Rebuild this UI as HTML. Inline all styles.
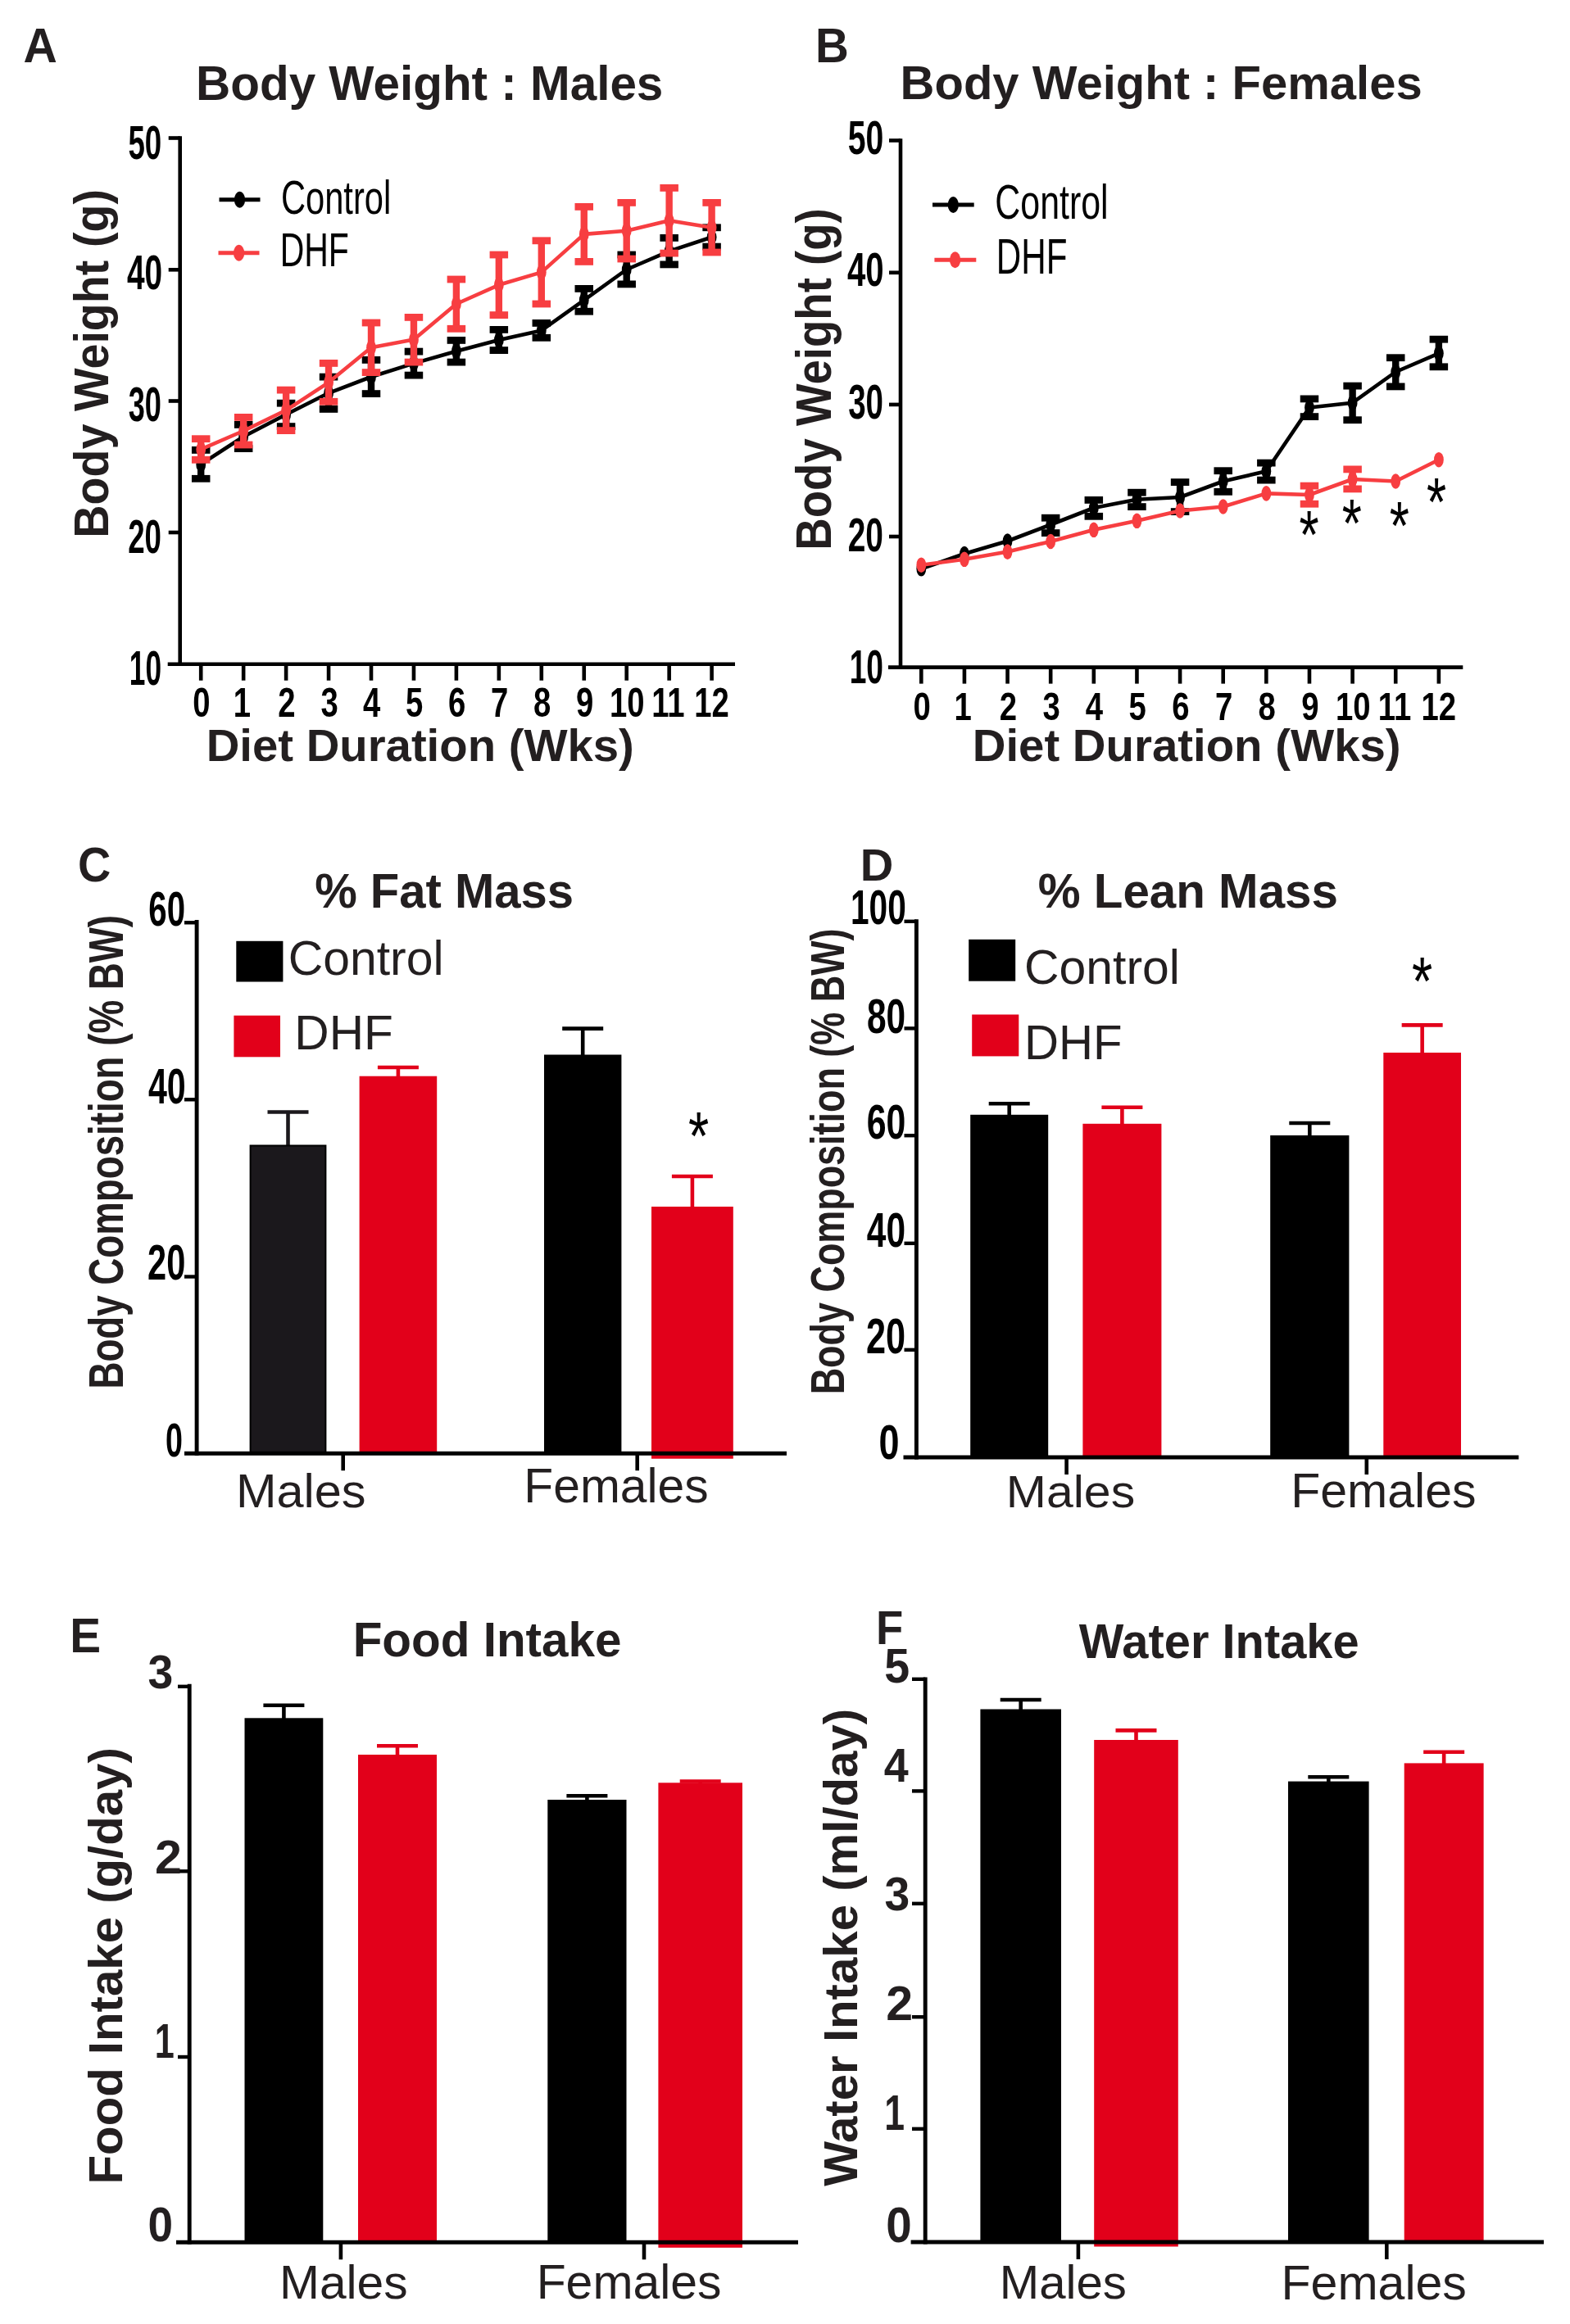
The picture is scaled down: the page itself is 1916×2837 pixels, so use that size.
<!DOCTYPE html>
<html lang="en">
<head>
<meta charset="utf-8">
<title>Body weight, body composition, food and water intake</title>
<style>
html,body{margin:0;padding:0;background:#fff}
body{width:1916px;height:2837px;overflow:hidden}
svg{display:block;filter:blur(0.7px)}
text{font-family:"Liberation Sans",sans-serif;white-space:pre}
</style>
</head>
<body>
<svg width="1916" height="2837" viewBox="0 0 1916 2837">
<rect width="1916" height="2837" fill="#ffffff"/>
<polyline points="245.2,566.9 297.15,533 349.1,506 401.05,479.8 453,460 504.95,443.6 556.9,428.7 608.85,415 660.8,403.4 712.75,366.3 764.7,329 816.65,306.6 868.6,289.5" fill="none" stroke="#000000" stroke-width="4.6" stroke-linejoin="round"/>
<line x1="245.2" y1="546" x2="245.2" y2="587.7" stroke="#000000" stroke-width="8.4"/>
<rect x="233.95" y="545" width="22.5" height="8.8" fill="#000000"/>
<rect x="233.95" y="579.9" width="22.5" height="8.8" fill="#000000"/>
<ellipse cx="245.2" cy="566.9" rx="5.9" ry="9.3" fill="#000000"/>
<line x1="297.15" y1="515" x2="297.15" y2="551" stroke="#000000" stroke-width="8.4"/>
<rect x="285.9" y="514" width="22.5" height="8.8" fill="#000000"/>
<rect x="285.9" y="543.2" width="22.5" height="8.8" fill="#000000"/>
<ellipse cx="297.15" cy="533" rx="5.9" ry="9.3" fill="#000000"/>
<line x1="349.1" y1="488.8" x2="349.1" y2="524" stroke="#000000" stroke-width="8.4"/>
<rect x="337.85" y="487.8" width="22.5" height="8.8" fill="#000000"/>
<rect x="337.85" y="516.2" width="22.5" height="8.8" fill="#000000"/>
<ellipse cx="349.1" cy="506" rx="5.9" ry="9.3" fill="#000000"/>
<line x1="401.05" y1="456.7" x2="401.05" y2="502.8" stroke="#000000" stroke-width="8.4"/>
<rect x="389.8" y="455.7" width="22.5" height="8.8" fill="#000000"/>
<rect x="389.8" y="495" width="22.5" height="8.8" fill="#000000"/>
<ellipse cx="401.05" cy="479.8" rx="5.9" ry="9.3" fill="#000000"/>
<line x1="453" y1="436" x2="453" y2="484" stroke="#000000" stroke-width="8.4"/>
<rect x="441.75" y="435" width="22.5" height="8.8" fill="#000000"/>
<rect x="441.75" y="476.2" width="22.5" height="8.8" fill="#000000"/>
<ellipse cx="453" cy="460" rx="5.9" ry="9.3" fill="#000000"/>
<line x1="504.95" y1="425.7" x2="504.95" y2="461.5" stroke="#000000" stroke-width="8.4"/>
<rect x="493.7" y="424.7" width="22.5" height="8.8" fill="#000000"/>
<rect x="493.7" y="453.7" width="22.5" height="8.8" fill="#000000"/>
<ellipse cx="504.95" cy="443.6" rx="5.9" ry="9.3" fill="#000000"/>
<line x1="556.9" y1="412" x2="556.9" y2="445.5" stroke="#000000" stroke-width="8.4"/>
<rect x="545.65" y="411" width="22.5" height="8.8" fill="#000000"/>
<rect x="545.65" y="437.7" width="22.5" height="8.8" fill="#000000"/>
<ellipse cx="556.9" cy="428.7" rx="5.9" ry="9.3" fill="#000000"/>
<line x1="608.85" y1="399" x2="608.85" y2="431" stroke="#000000" stroke-width="8.4"/>
<rect x="597.6" y="398" width="22.5" height="8.8" fill="#000000"/>
<rect x="597.6" y="423.2" width="22.5" height="8.8" fill="#000000"/>
<ellipse cx="608.85" cy="415" rx="5.9" ry="9.3" fill="#000000"/>
<line x1="660.8" y1="391" x2="660.8" y2="415.7" stroke="#000000" stroke-width="8.4"/>
<rect x="649.55" y="390" width="22.5" height="8.8" fill="#000000"/>
<rect x="649.55" y="407.9" width="22.5" height="8.8" fill="#000000"/>
<ellipse cx="660.8" cy="403.4" rx="5.9" ry="9.3" fill="#000000"/>
<line x1="712.75" y1="349" x2="712.75" y2="383.6" stroke="#000000" stroke-width="8.4"/>
<rect x="701.5" y="348" width="22.5" height="8.8" fill="#000000"/>
<rect x="701.5" y="375.8" width="22.5" height="8.8" fill="#000000"/>
<ellipse cx="712.75" cy="366.3" rx="5.9" ry="9.3" fill="#000000"/>
<line x1="764.7" y1="307.6" x2="764.7" y2="350.3" stroke="#000000" stroke-width="8.4"/>
<rect x="753.45" y="306.6" width="22.5" height="8.8" fill="#000000"/>
<rect x="753.45" y="342.5" width="22.5" height="8.8" fill="#000000"/>
<ellipse cx="764.7" cy="329" rx="5.9" ry="9.3" fill="#000000"/>
<line x1="816.65" y1="287" x2="816.65" y2="326.3" stroke="#000000" stroke-width="8.4"/>
<rect x="805.4" y="286" width="22.5" height="8.8" fill="#000000"/>
<rect x="805.4" y="318.5" width="22.5" height="8.8" fill="#000000"/>
<ellipse cx="816.65" cy="306.6" rx="5.9" ry="9.3" fill="#000000"/>
<line x1="868.6" y1="274.4" x2="868.6" y2="304.5" stroke="#000000" stroke-width="8.4"/>
<rect x="857.35" y="273.4" width="22.5" height="8.8" fill="#000000"/>
<rect x="857.35" y="296.7" width="22.5" height="8.8" fill="#000000"/>
<ellipse cx="868.6" cy="289.5" rx="5.9" ry="9.3" fill="#000000"/>
<polyline points="245.2,548.5 297.15,526 349.1,500.8 401.05,466.8 453,424.3 504.95,414.5 556.9,371 608.85,347.8 660.8,332.4 712.75,285.9 764.7,281.7 816.65,269.3 868.6,277.7" fill="none" stroke="#f73e41" stroke-width="4.6" stroke-linejoin="round"/>
<line x1="245.2" y1="532.3" x2="245.2" y2="564.7" stroke="#f73e41" stroke-width="8.4"/>
<rect x="233.95" y="531.3" width="22.5" height="8.8" fill="#f73e41"/>
<rect x="233.95" y="556.9" width="22.5" height="8.8" fill="#f73e41"/>
<ellipse cx="245.2" cy="548.5" rx="5.9" ry="9.3" fill="#f73e41"/>
<line x1="297.15" y1="506" x2="297.15" y2="546.4" stroke="#f73e41" stroke-width="8.4"/>
<rect x="285.9" y="505" width="22.5" height="8.8" fill="#f73e41"/>
<rect x="285.9" y="538.6" width="22.5" height="8.8" fill="#f73e41"/>
<ellipse cx="297.15" cy="526" rx="5.9" ry="9.3" fill="#f73e41"/>
<line x1="349.1" y1="472.7" x2="349.1" y2="529" stroke="#f73e41" stroke-width="8.4"/>
<rect x="337.85" y="471.7" width="22.5" height="8.8" fill="#f73e41"/>
<rect x="337.85" y="521.2" width="22.5" height="8.8" fill="#f73e41"/>
<ellipse cx="349.1" cy="500.8" rx="5.9" ry="9.3" fill="#f73e41"/>
<line x1="401.05" y1="440" x2="401.05" y2="493.7" stroke="#f73e41" stroke-width="8.4"/>
<rect x="389.8" y="439" width="22.5" height="8.8" fill="#f73e41"/>
<rect x="389.8" y="485.9" width="22.5" height="8.8" fill="#f73e41"/>
<ellipse cx="401.05" cy="466.8" rx="5.9" ry="9.3" fill="#f73e41"/>
<line x1="453" y1="390.6" x2="453" y2="458" stroke="#f73e41" stroke-width="8.4"/>
<rect x="441.75" y="389.6" width="22.5" height="8.8" fill="#f73e41"/>
<rect x="441.75" y="450.2" width="22.5" height="8.8" fill="#f73e41"/>
<ellipse cx="453" cy="424.3" rx="5.9" ry="9.3" fill="#f73e41"/>
<line x1="504.95" y1="384" x2="504.95" y2="445.5" stroke="#f73e41" stroke-width="8.4"/>
<rect x="493.7" y="383" width="22.5" height="8.8" fill="#f73e41"/>
<rect x="493.7" y="437.7" width="22.5" height="8.8" fill="#f73e41"/>
<ellipse cx="504.95" cy="414.5" rx="5.9" ry="9.3" fill="#f73e41"/>
<line x1="556.9" y1="337.6" x2="556.9" y2="404.7" stroke="#f73e41" stroke-width="8.4"/>
<rect x="545.65" y="336.6" width="22.5" height="8.8" fill="#f73e41"/>
<rect x="545.65" y="396.9" width="22.5" height="8.8" fill="#f73e41"/>
<ellipse cx="556.9" cy="371" rx="5.9" ry="9.3" fill="#f73e41"/>
<line x1="608.85" y1="307.6" x2="608.85" y2="388" stroke="#f73e41" stroke-width="8.4"/>
<rect x="597.6" y="306.6" width="22.5" height="8.8" fill="#f73e41"/>
<rect x="597.6" y="380.2" width="22.5" height="8.8" fill="#f73e41"/>
<ellipse cx="608.85" cy="347.8" rx="5.9" ry="9.3" fill="#f73e41"/>
<line x1="660.8" y1="290.4" x2="660.8" y2="374.4" stroke="#f73e41" stroke-width="8.4"/>
<rect x="649.55" y="289.4" width="22.5" height="8.8" fill="#f73e41"/>
<rect x="649.55" y="366.6" width="22.5" height="8.8" fill="#f73e41"/>
<ellipse cx="660.8" cy="332.4" rx="5.9" ry="9.3" fill="#f73e41"/>
<line x1="712.75" y1="249" x2="712.75" y2="322.8" stroke="#f73e41" stroke-width="8.4"/>
<rect x="701.5" y="248" width="22.5" height="8.8" fill="#f73e41"/>
<rect x="701.5" y="315" width="22.5" height="8.8" fill="#f73e41"/>
<ellipse cx="712.75" cy="285.9" rx="5.9" ry="9.3" fill="#f73e41"/>
<line x1="764.7" y1="244" x2="764.7" y2="319.4" stroke="#f73e41" stroke-width="8.4"/>
<rect x="753.45" y="243" width="22.5" height="8.8" fill="#f73e41"/>
<rect x="753.45" y="311.6" width="22.5" height="8.8" fill="#f73e41"/>
<ellipse cx="764.7" cy="281.7" rx="5.9" ry="9.3" fill="#f73e41"/>
<line x1="816.65" y1="226" x2="816.65" y2="312.5" stroke="#f73e41" stroke-width="8.4"/>
<rect x="805.4" y="225" width="22.5" height="8.8" fill="#f73e41"/>
<rect x="805.4" y="304.7" width="22.5" height="8.8" fill="#f73e41"/>
<ellipse cx="816.65" cy="269.3" rx="5.9" ry="9.3" fill="#f73e41"/>
<line x1="868.6" y1="244" x2="868.6" y2="311.4" stroke="#f73e41" stroke-width="8.4"/>
<rect x="857.35" y="243" width="22.5" height="8.8" fill="#f73e41"/>
<rect x="857.35" y="303.6" width="22.5" height="8.8" fill="#f73e41"/>
<ellipse cx="868.6" cy="277.7" rx="5.9" ry="9.3" fill="#f73e41"/>
<line x1="219.7" y1="166.2" x2="219.7" y2="813" stroke="#000000" stroke-width="4.6"/>
<line x1="204.7" y1="810.7" x2="897" y2="810.7" stroke="#000000" stroke-width="4.6"/>
<line x1="205.7" y1="168.5" x2="219.7" y2="168.5" stroke="#000000" stroke-width="4.6"/>
<line x1="205.7" y1="329.3" x2="219.7" y2="329.3" stroke="#000000" stroke-width="4.6"/>
<line x1="205.7" y1="489.5" x2="219.7" y2="489.5" stroke="#000000" stroke-width="4.6"/>
<line x1="205.7" y1="650" x2="219.7" y2="650" stroke="#000000" stroke-width="4.6"/>
<line x1="245.2" y1="810.7" x2="245.2" y2="830.7" stroke="#000000" stroke-width="4.6"/>
<line x1="297.15" y1="810.7" x2="297.15" y2="830.7" stroke="#000000" stroke-width="4.6"/>
<line x1="349.1" y1="810.7" x2="349.1" y2="830.7" stroke="#000000" stroke-width="4.6"/>
<line x1="401.05" y1="810.7" x2="401.05" y2="830.7" stroke="#000000" stroke-width="4.6"/>
<line x1="453" y1="810.7" x2="453" y2="830.7" stroke="#000000" stroke-width="4.6"/>
<line x1="504.95" y1="810.7" x2="504.95" y2="830.7" stroke="#000000" stroke-width="4.6"/>
<line x1="556.9" y1="810.7" x2="556.9" y2="830.7" stroke="#000000" stroke-width="4.6"/>
<line x1="608.85" y1="810.7" x2="608.85" y2="830.7" stroke="#000000" stroke-width="4.6"/>
<line x1="660.8" y1="810.7" x2="660.8" y2="830.7" stroke="#000000" stroke-width="4.6"/>
<line x1="712.75" y1="810.7" x2="712.75" y2="830.7" stroke="#000000" stroke-width="4.6"/>
<line x1="764.7" y1="810.7" x2="764.7" y2="830.7" stroke="#000000" stroke-width="4.6"/>
<line x1="816.65" y1="810.7" x2="816.65" y2="830.7" stroke="#000000" stroke-width="4.6"/>
<line x1="868.6" y1="810.7" x2="868.6" y2="830.7" stroke="#000000" stroke-width="4.6"/>
<text transform="translate(156.4 194.2) scale(0.63 1)" font-size="58.21" font-weight="bold" fill="#000000">50</text>
<text transform="translate(154.92 353) scale(0.66 1)" font-size="58.78" font-weight="bold" fill="#000000">40</text>
<text transform="translate(156.68 513.5) scale(0.62 1)" font-size="58.35" font-weight="bold" fill="#000000">30</text>
<text transform="translate(156.21 674.6) scale(0.63 1)" font-size="58.21" font-weight="bold" fill="#000000">20</text>
<text transform="translate(157.8 836) scale(0.6 1)" font-size="58.78" font-weight="bold" fill="#000000">10</text>
<text transform="translate(235.37 875.4) scale(0.78 1)" font-size="49.03" font-weight="bold" fill="#000000">0</text>
<text transform="translate(284.65 875.4) scale(0.78 1)" font-size="49.03" font-weight="bold" fill="#000000">1</text>
<text transform="translate(339.36 875.4) scale(0.78 1)" font-size="49.03" font-weight="bold" fill="#000000">2</text>
<text transform="translate(391.46 875.4) scale(0.78 1)" font-size="49.03" font-weight="bold" fill="#000000">3</text>
<text transform="translate(442.98 875.4) scale(0.78 1)" font-size="49.03" font-weight="bold" fill="#000000">4</text>
<text transform="translate(495.07 875.4) scale(0.78 1)" font-size="49.03" font-weight="bold" fill="#000000">5</text>
<text transform="translate(547.02 875.4) scale(0.78 1)" font-size="49.03" font-weight="bold" fill="#000000">6</text>
<text transform="translate(599.02 875.4) scale(0.78 1)" font-size="49.03" font-weight="bold" fill="#000000">7</text>
<text transform="translate(650.92 875.4) scale(0.78 1)" font-size="49.03" font-weight="bold" fill="#000000">8</text>
<text transform="translate(702.92 875.4) scale(0.78 1)" font-size="49.03" font-weight="bold" fill="#000000">9</text>
<text transform="translate(744 875.4) scale(0.78 1)" font-size="49.03" font-weight="bold" fill="#000000">10</text>
<text transform="translate(795.17 875.4) scale(0.78 1)" font-size="49.03" font-weight="bold" fill="#000000">11</text>
<text transform="translate(847.3 875.4) scale(0.78 1)" font-size="49.03" font-weight="bold" fill="#000000">12</text>
<text transform="translate(28.56 76) scale(0.96 1)" font-size="59.64" font-weight="bold" fill="#231f20">A</text>
<text transform="translate(239.06 121.5) scale(0.98 1)" font-size="59.64" font-weight="bold" fill="#231f20">Body Weight : Males</text>
<text transform="translate(132.3 653) rotate(-90) scale(0.95 1)" x="-3.96" font-size="58.62" font-weight="bold" fill="#231f20">Body Weight (g)</text>
<text transform="translate(251.69 929) scale(1 1)" font-size="56.29" font-weight="bold" fill="#231f20">Diet Duration (Wks)</text>
<line x1="267.5" y1="243.7" x2="317.5" y2="243.7" stroke="#000000" stroke-width="5"/>
<ellipse cx="292.5" cy="243.7" rx="6.6" ry="10" fill="#000000"/>
<text transform="translate(342.9 261.3) scale(0.72 1)" font-size="57.89" font-weight="normal" fill="#000000">Control</text>
<line x1="266.5" y1="308.7" x2="316.5" y2="308.7" stroke="#f73e41" stroke-width="5"/>
<ellipse cx="291.6" cy="308.7" rx="6.6" ry="10" fill="#f73e41"/>
<text transform="translate(341.63 325.2) scale(0.71 1)" font-size="57.75" font-weight="normal" fill="#000000">DHF</text>
<polyline points="1124.3,694.3 1176.93,676 1229.56,660.5 1282.19,640.5 1334.82,620 1387.45,609.7 1440.08,607 1492.71,587.5 1545.34,575.3 1597.97,497.5 1650.6,491.7 1703.23,454 1755.86,431.3" fill="none" stroke="#000000" stroke-width="4.6" stroke-linejoin="round"/>
<ellipse cx="1124.3" cy="694.3" rx="5.9" ry="9.3" fill="#000000"/>
<ellipse cx="1176.93" cy="676" rx="5.9" ry="9.3" fill="#000000"/>
<ellipse cx="1229.56" cy="660.5" rx="5.9" ry="9.3" fill="#000000"/>
<line x1="1282.19" y1="628.8" x2="1282.19" y2="654" stroke="#000000" stroke-width="8.4"/>
<rect x="1270.94" y="627.8" width="22.5" height="8.8" fill="#000000"/>
<rect x="1270.94" y="646.2" width="22.5" height="8.8" fill="#000000"/>
<ellipse cx="1282.19" cy="640.5" rx="5.9" ry="9.3" fill="#000000"/>
<line x1="1334.82" y1="607" x2="1334.82" y2="633.7" stroke="#000000" stroke-width="8.4"/>
<rect x="1323.57" y="606" width="22.5" height="8.8" fill="#000000"/>
<rect x="1323.57" y="625.9" width="22.5" height="8.8" fill="#000000"/>
<ellipse cx="1334.82" cy="620" rx="5.9" ry="9.3" fill="#000000"/>
<line x1="1387.45" y1="597.8" x2="1387.45" y2="622" stroke="#000000" stroke-width="8.4"/>
<rect x="1376.2" y="596.8" width="22.5" height="8.8" fill="#000000"/>
<rect x="1376.2" y="614.2" width="22.5" height="8.8" fill="#000000"/>
<ellipse cx="1387.45" cy="609.7" rx="5.9" ry="9.3" fill="#000000"/>
<line x1="1440.08" y1="585.2" x2="1440.08" y2="628" stroke="#000000" stroke-width="8.4"/>
<rect x="1428.83" y="584.2" width="22.5" height="8.8" fill="#000000"/>
<rect x="1428.83" y="620.2" width="22.5" height="8.8" fill="#000000"/>
<ellipse cx="1440.08" cy="607" rx="5.9" ry="9.3" fill="#000000"/>
<line x1="1492.71" y1="571.3" x2="1492.71" y2="603.7" stroke="#000000" stroke-width="8.4"/>
<rect x="1481.46" y="570.3" width="22.5" height="8.8" fill="#000000"/>
<rect x="1481.46" y="595.9" width="22.5" height="8.8" fill="#000000"/>
<ellipse cx="1492.71" cy="587.5" rx="5.9" ry="9.3" fill="#000000"/>
<line x1="1545.34" y1="561.7" x2="1545.34" y2="589.5" stroke="#000000" stroke-width="8.4"/>
<rect x="1534.09" y="560.7" width="22.5" height="8.8" fill="#000000"/>
<rect x="1534.09" y="581.7" width="22.5" height="8.8" fill="#000000"/>
<ellipse cx="1545.34" cy="575.3" rx="5.9" ry="9.3" fill="#000000"/>
<line x1="1597.97" y1="483.5" x2="1597.97" y2="512" stroke="#000000" stroke-width="8.4"/>
<rect x="1586.72" y="482.5" width="22.5" height="8.8" fill="#000000"/>
<rect x="1586.72" y="504.2" width="22.5" height="8.8" fill="#000000"/>
<ellipse cx="1597.97" cy="497.5" rx="5.9" ry="9.3" fill="#000000"/>
<line x1="1650.6" y1="467.7" x2="1650.6" y2="516.1" stroke="#000000" stroke-width="8.4"/>
<rect x="1639.35" y="466.7" width="22.5" height="8.8" fill="#000000"/>
<rect x="1639.35" y="508.3" width="22.5" height="8.8" fill="#000000"/>
<ellipse cx="1650.6" cy="491.7" rx="5.9" ry="9.3" fill="#000000"/>
<line x1="1703.23" y1="433.3" x2="1703.23" y2="475.3" stroke="#000000" stroke-width="8.4"/>
<rect x="1691.98" y="432.3" width="22.5" height="8.8" fill="#000000"/>
<rect x="1691.98" y="467.5" width="22.5" height="8.8" fill="#000000"/>
<ellipse cx="1703.23" cy="454" rx="5.9" ry="9.3" fill="#000000"/>
<line x1="1755.86" y1="410.8" x2="1755.86" y2="451.2" stroke="#000000" stroke-width="8.4"/>
<rect x="1744.61" y="409.8" width="22.5" height="8.8" fill="#000000"/>
<rect x="1744.61" y="443.4" width="22.5" height="8.8" fill="#000000"/>
<ellipse cx="1755.86" cy="431.3" rx="5.9" ry="9.3" fill="#000000"/>
<polyline points="1124.3,689.7 1176.93,682.8 1229.56,673.6 1282.19,661 1334.82,646.8 1387.45,635.8 1440.08,623.5 1492.71,618.5 1545.34,602.4 1597.97,604 1650.6,585 1703.23,587.5 1755.86,561.2" fill="none" stroke="#f73e41" stroke-width="4.6" stroke-linejoin="round"/>
<ellipse cx="1124.3" cy="689.7" rx="5.9" ry="9.3" fill="#f73e41"/>
<ellipse cx="1176.93" cy="682.8" rx="5.9" ry="9.3" fill="#f73e41"/>
<ellipse cx="1229.56" cy="673.6" rx="5.9" ry="9.3" fill="#f73e41"/>
<ellipse cx="1282.19" cy="661" rx="5.9" ry="9.3" fill="#f73e41"/>
<ellipse cx="1334.82" cy="646.8" rx="5.9" ry="9.3" fill="#f73e41"/>
<ellipse cx="1387.45" cy="635.8" rx="5.9" ry="9.3" fill="#f73e41"/>
<ellipse cx="1440.08" cy="623.5" rx="5.9" ry="9.3" fill="#f73e41"/>
<ellipse cx="1492.71" cy="618.5" rx="5.9" ry="9.3" fill="#f73e41"/>
<ellipse cx="1545.34" cy="602.4" rx="5.9" ry="9.3" fill="#f73e41"/>
<line x1="1597.97" y1="589.7" x2="1597.97" y2="618.6" stroke="#f73e41" stroke-width="8.4"/>
<rect x="1586.72" y="588.7" width="22.5" height="8.8" fill="#f73e41"/>
<rect x="1586.72" y="610.8" width="22.5" height="8.8" fill="#f73e41"/>
<ellipse cx="1597.97" cy="604" rx="5.9" ry="9.3" fill="#f73e41"/>
<line x1="1650.6" y1="569.5" x2="1650.6" y2="600.3" stroke="#f73e41" stroke-width="8.4"/>
<rect x="1639.35" y="568.5" width="22.5" height="8.8" fill="#f73e41"/>
<rect x="1639.35" y="592.5" width="22.5" height="8.8" fill="#f73e41"/>
<ellipse cx="1650.6" cy="585" rx="5.9" ry="9.3" fill="#f73e41"/>
<ellipse cx="1703.23" cy="587.5" rx="5.9" ry="9.3" fill="#f73e41"/>
<ellipse cx="1755.86" cy="561.2" rx="5.9" ry="9.3" fill="#f73e41"/>
<line x1="1099" y1="169.2" x2="1099" y2="816.9" stroke="#000000" stroke-width="4.6"/>
<line x1="1084" y1="814.6" x2="1785.3" y2="814.6" stroke="#000000" stroke-width="4.6"/>
<line x1="1085" y1="171.5" x2="1099" y2="171.5" stroke="#000000" stroke-width="4.6"/>
<line x1="1085" y1="332.8" x2="1099" y2="332.8" stroke="#000000" stroke-width="4.6"/>
<line x1="1085" y1="493.9" x2="1099" y2="493.9" stroke="#000000" stroke-width="4.6"/>
<line x1="1085" y1="655" x2="1099" y2="655" stroke="#000000" stroke-width="4.6"/>
<line x1="1124.3" y1="814.6" x2="1124.3" y2="834.6" stroke="#000000" stroke-width="4.6"/>
<line x1="1176.93" y1="814.6" x2="1176.93" y2="834.6" stroke="#000000" stroke-width="4.6"/>
<line x1="1229.56" y1="814.6" x2="1229.56" y2="834.6" stroke="#000000" stroke-width="4.6"/>
<line x1="1282.19" y1="814.6" x2="1282.19" y2="834.6" stroke="#000000" stroke-width="4.6"/>
<line x1="1334.82" y1="814.6" x2="1334.82" y2="834.6" stroke="#000000" stroke-width="4.6"/>
<line x1="1387.45" y1="814.6" x2="1387.45" y2="834.6" stroke="#000000" stroke-width="4.6"/>
<line x1="1440.08" y1="814.6" x2="1440.08" y2="834.6" stroke="#000000" stroke-width="4.6"/>
<line x1="1492.71" y1="814.6" x2="1492.71" y2="834.6" stroke="#000000" stroke-width="4.6"/>
<line x1="1545.34" y1="814.6" x2="1545.34" y2="834.6" stroke="#000000" stroke-width="4.6"/>
<line x1="1597.97" y1="814.6" x2="1597.97" y2="834.6" stroke="#000000" stroke-width="4.6"/>
<line x1="1650.6" y1="814.6" x2="1650.6" y2="834.6" stroke="#000000" stroke-width="4.6"/>
<line x1="1703.23" y1="814.6" x2="1703.23" y2="834.6" stroke="#000000" stroke-width="4.6"/>
<line x1="1755.86" y1="814.6" x2="1755.86" y2="834.6" stroke="#000000" stroke-width="4.6"/>
<text transform="translate(1034.83 187.7) scale(0.68 1)" font-size="57.63" font-weight="bold" fill="#000000">50</text>
<text transform="translate(1033.9 349.3) scale(0.69 1)" font-size="58.21" font-weight="bold" fill="#000000">40</text>
<text transform="translate(1035.13 510.5) scale(0.66 1)" font-size="58.35" font-weight="bold" fill="#000000">30</text>
<text transform="translate(1034.63 673) scale(0.67 1)" font-size="58.06" font-weight="bold" fill="#000000">20</text>
<text transform="translate(1036.67 833.5) scale(0.65 1)" font-size="57.2" font-weight="bold" fill="#000000">10</text>
<text transform="translate(1114.47 879.4) scale(0.79 1)" font-size="48.46" font-weight="bold" fill="#000000">0</text>
<text transform="translate(1164.43 879.4) scale(0.79 1)" font-size="48.46" font-weight="bold" fill="#000000">1</text>
<text transform="translate(1219.82 879.4) scale(0.79 1)" font-size="48.46" font-weight="bold" fill="#000000">2</text>
<text transform="translate(1272.6 879.4) scale(0.79 1)" font-size="48.46" font-weight="bold" fill="#000000">3</text>
<text transform="translate(1324.8 879.4) scale(0.79 1)" font-size="48.46" font-weight="bold" fill="#000000">4</text>
<text transform="translate(1377.57 879.4) scale(0.79 1)" font-size="48.46" font-weight="bold" fill="#000000">5</text>
<text transform="translate(1430.2 879.4) scale(0.79 1)" font-size="48.46" font-weight="bold" fill="#000000">6</text>
<text transform="translate(1482.88 879.4) scale(0.79 1)" font-size="48.46" font-weight="bold" fill="#000000">7</text>
<text transform="translate(1535.46 879.4) scale(0.79 1)" font-size="48.46" font-weight="bold" fill="#000000">8</text>
<text transform="translate(1588.14 879.4) scale(0.79 1)" font-size="48.46" font-weight="bold" fill="#000000">9</text>
<text transform="translate(1629.9 879.4) scale(0.79 1)" font-size="48.46" font-weight="bold" fill="#000000">10</text>
<text transform="translate(1681.75 879.4) scale(0.79 1)" font-size="48.46" font-weight="bold" fill="#000000">11</text>
<text transform="translate(1734.56 879.4) scale(0.79 1)" font-size="48.46" font-weight="bold" fill="#000000">12</text>
<text transform="translate(994.99 76) scale(0.96 1)" font-size="58.91" font-weight="bold" fill="#231f20">B</text>
<text transform="translate(1098.57 121) scale(1.01 1)" font-size="57.45" font-weight="bold" fill="#231f20">Body Weight : Females</text>
<text transform="translate(1014.2 668) rotate(-90) scale(0.9 1)" x="-4.09" font-size="60.65" font-weight="bold" fill="#231f20">Body Weight (g)</text>
<text transform="translate(1186.69 929.3) scale(1.02 1)" font-size="55.27" font-weight="bold" fill="#231f20">Diet Duration (Wks)</text>
<line x1="1138" y1="250" x2="1188.7" y2="250" stroke="#000000" stroke-width="5"/>
<ellipse cx="1163.3" cy="250" rx="6.6" ry="10" fill="#000000"/>
<text transform="translate(1214.36 267.2) scale(0.73 1)" font-size="58.76" font-weight="normal" fill="#000000">Control</text>
<line x1="1140.4" y1="317.3" x2="1191.3" y2="317.3" stroke="#f73e41" stroke-width="5"/>
<ellipse cx="1165.6" cy="317.3" rx="6.6" ry="10" fill="#f73e41"/>
<text transform="translate(1215.83 334) scale(0.69 1)" font-size="61.09" font-weight="normal" fill="#000000">DHF</text>
<text transform="translate(1585.62 681.96) scale(1 1.34)" font-size="61.97" fill="#000000">*</text>
<text transform="translate(1637.72 668.16) scale(1 1.34)" font-size="61.97" fill="#000000">*</text>
<text transform="translate(1695.72 671.46) scale(1 1.34)" font-size="61.97" fill="#000000">*</text>
<text transform="translate(1741.12 641.76) scale(1 1.34)" font-size="61.97" fill="#000000">*</text>
<line x1="351.5" y1="1357.5" x2="351.5" y2="1399.5" stroke="#1b181c" stroke-width="4.6"/>
<line x1="326.5" y1="1357.5" x2="376.5" y2="1357.5" stroke="#1b181c" stroke-width="4.6"/>
<rect x="305.6" y="1398.5" width="91.8" height="375.7" fill="#1b181c" stroke="#000000" stroke-width="2"/>
<line x1="485.9" y1="1303" x2="485.9" y2="1315.7" stroke="#e2001a" stroke-width="4.6"/>
<line x1="460.9" y1="1303" x2="510.9" y2="1303" stroke="#e2001a" stroke-width="4.6"/>
<rect x="438.6" y="1313.7" width="94.6" height="460.5" fill="#e2001a"/>
<line x1="711.2" y1="1255.6" x2="711.2" y2="1289.5" stroke="#000000" stroke-width="4.6"/>
<line x1="686.2" y1="1255.6" x2="736.2" y2="1255.6" stroke="#000000" stroke-width="4.6"/>
<rect x="664" y="1287.5" width="94.4" height="486.7" fill="#000000"/>
<line x1="844.9" y1="1436" x2="844.9" y2="1475" stroke="#e2001a" stroke-width="4.6"/>
<line x1="819.9" y1="1436" x2="869.9" y2="1436" stroke="#e2001a" stroke-width="4.6"/>
<rect x="795" y="1473" width="99.8" height="307.7" fill="#e2001a"/>
<line x1="240.1" y1="1123" x2="240.1" y2="1776.7" stroke="#000000" stroke-width="4.9"/>
<line x1="225" y1="1774.2" x2="960" y2="1774.2" stroke="#000000" stroke-width="5.1"/>
<line x1="225" y1="1126.3" x2="240.1" y2="1126.3" stroke="#000000" stroke-width="4.4"/>
<line x1="225" y1="1342.3" x2="240.1" y2="1342.3" stroke="#000000" stroke-width="4.4"/>
<line x1="225" y1="1558.5" x2="240.1" y2="1558.5" stroke="#000000" stroke-width="4.4"/>
<line x1="418.7" y1="1774.2" x2="418.7" y2="1795.2" stroke="#000000" stroke-width="4.6"/>
<line x1="777.7" y1="1774.2" x2="777.7" y2="1795.2" stroke="#000000" stroke-width="4.6"/>
<text transform="translate(94.96 1076) scale(0.94 1)" font-size="59.35" font-weight="bold" fill="#231f20">C</text>
<text transform="translate(384.14 1107.6) scale(0.99 1)" font-size="58.62" font-weight="bold" fill="#231f20">% Fat Mass</text>
<text transform="translate(149.8 1692.5) rotate(-90) scale(0.77 1)" x="-4.01" font-size="59.35" font-weight="bold" fill="#231f20">Body Composition (% BW)</text>
<text transform="translate(287.91 1839.5) scale(1.03 1)" font-size="57.75" font-weight="normal" fill="#231f20">Males</text>
<text transform="translate(639.34 1833.6) scale(1 1)" font-size="58.76" font-weight="normal" fill="#231f20">Females</text>
<rect x="288.3" y="1148.8" width="57.1" height="49.7" fill="#000000"/>
<text transform="translate(351.67 1189.6) scale(1.01 1)" font-size="58.33" font-weight="normal" fill="#231f20">Control</text>
<rect x="285.4" y="1239.7" width="56.6" height="50.6" fill="#e2001a"/>
<text transform="translate(359.36 1281.3) scale(1 1)" font-size="58.62" font-weight="normal" fill="#231f20">DHF</text>
<text transform="translate(840.07 1416.26) scale(1 1.28)" font-size="64.79" fill="#000000">*</text>
<text transform="translate(181.3 1130.4) scale(0.68 1)" font-size="59.07" font-weight="bold" fill="#000000">60</text>
<text transform="translate(180.89 1346.6) scale(0.68 1)" font-size="60.5" font-weight="bold" fill="#000000">40</text>
<text transform="translate(180.04 1562.4) scale(0.69 1)" font-size="60.22" font-weight="bold" fill="#000000">20</text>
<text transform="translate(202.09 1777.8) scale(0.65 1)" font-size="57.92" font-weight="bold" fill="#000000">0</text>
<line x1="1231.7" y1="1347.3" x2="1231.7" y2="1362.8" stroke="#000000" stroke-width="4.6"/>
<line x1="1206.7" y1="1347.3" x2="1256.7" y2="1347.3" stroke="#000000" stroke-width="4.6"/>
<rect x="1184.2" y="1360.8" width="95" height="418.2" fill="#000000"/>
<line x1="1369.4" y1="1351.8" x2="1369.4" y2="1373.8" stroke="#e2001a" stroke-width="4.6"/>
<line x1="1344.4" y1="1351.8" x2="1394.4" y2="1351.8" stroke="#e2001a" stroke-width="4.6"/>
<rect x="1321.4" y="1371.8" width="96" height="407.2" fill="#e2001a"/>
<line x1="1598.3" y1="1371" x2="1598.3" y2="1388" stroke="#000000" stroke-width="4.6"/>
<line x1="1573.3" y1="1371" x2="1623.3" y2="1371" stroke="#000000" stroke-width="4.6"/>
<rect x="1550.2" y="1386" width="96.2" height="393" fill="#000000"/>
<line x1="1735.65" y1="1251.4" x2="1735.65" y2="1287" stroke="#e2001a" stroke-width="4.6"/>
<line x1="1710.65" y1="1251.4" x2="1760.65" y2="1251.4" stroke="#e2001a" stroke-width="4.6"/>
<rect x="1688.3" y="1285" width="94.7" height="494" fill="#e2001a"/>
<line x1="1118.4" y1="1122.2" x2="1118.4" y2="1781.5" stroke="#000000" stroke-width="4.9"/>
<line x1="1102.5" y1="1779" x2="1853.4" y2="1779" stroke="#000000" stroke-width="5.1"/>
<line x1="1103.5" y1="1124.8" x2="1118.4" y2="1124.8" stroke="#000000" stroke-width="4.4"/>
<line x1="1103.5" y1="1255.4" x2="1118.4" y2="1255.4" stroke="#000000" stroke-width="4.4"/>
<line x1="1103.5" y1="1386.2" x2="1118.4" y2="1386.2" stroke="#000000" stroke-width="4.4"/>
<line x1="1103.5" y1="1517.8" x2="1118.4" y2="1517.8" stroke="#000000" stroke-width="4.4"/>
<line x1="1103.5" y1="1647.8" x2="1118.4" y2="1647.8" stroke="#000000" stroke-width="4.4"/>
<line x1="1301.6" y1="1779" x2="1301.6" y2="1800" stroke="#000000" stroke-width="4.6"/>
<line x1="1667.8" y1="1779" x2="1667.8" y2="1800" stroke="#000000" stroke-width="4.6"/>
<text transform="translate(1049.7 1075) scale(1 1)" font-size="56.15" font-weight="bold" fill="#231f20">D</text>
<text transform="translate(1266.75 1107.8) scale(0.99 1)" font-size="58.91" font-weight="bold" fill="#231f20">% Lean Mass</text>
<text transform="translate(1029.6 1699.3) rotate(-90) scale(0.78 1)" x="-3.89" font-size="57.6" font-weight="bold" fill="#231f20">Body Composition (% BW)</text>
<text transform="translate(1227.73 1839.8) scale(1.06 1)" font-size="55.71" font-weight="normal" fill="#231f20">Males</text>
<text transform="translate(1575.14 1839.8) scale(1 1)" font-size="59.05" font-weight="normal" fill="#231f20">Females</text>
<rect x="1182.2" y="1146.8" width="57" height="50.9" fill="#000000"/>
<text transform="translate(1250.06 1201) scale(1 1)" font-size="58.91" font-weight="normal" fill="#231f20">Control</text>
<rect x="1186.2" y="1238.5" width="57.1" height="50.9" fill="#e2001a"/>
<text transform="translate(1249.99 1292.7) scale(0.99 1)" font-size="58.76" font-weight="normal" fill="#231f20">DHF</text>
<text transform="translate(1723.07 1227.46) scale(1 1.28)" font-size="64.79" fill="#000000">*</text>
<text transform="translate(1037.96 1128.3) scale(0.69 1)" font-size="58.92" font-weight="bold" fill="#000000">100</text>
<text transform="translate(1057.92 1260.8) scale(0.72 1)" font-size="58.92" font-weight="bold" fill="#000000">80</text>
<text transform="translate(1057.7 1390.3) scale(0.73 1)" font-size="58.64" font-weight="bold" fill="#000000">60</text>
<text transform="translate(1057.86 1522.1) scale(0.72 1)" font-size="58.92" font-weight="bold" fill="#000000">40</text>
<text transform="translate(1056.99 1652.2) scale(0.71 1)" font-size="60.93" font-weight="bold" fill="#000000">20</text>
<text transform="translate(1072.5 1781.3) scale(0.75 1)" font-size="59.93" font-weight="bold" fill="#000000">0</text>
<line x1="346.4" y1="2081.8" x2="346.4" y2="2099.3" stroke="#000000" stroke-width="4.6"/>
<line x1="321.4" y1="2081.8" x2="371.4" y2="2081.8" stroke="#000000" stroke-width="4.6"/>
<rect x="298.5" y="2097.3" width="95.8" height="640" fill="#000000"/>
<line x1="485" y1="2131.2" x2="485" y2="2144" stroke="#e2001a" stroke-width="4.6"/>
<line x1="460" y1="2131.2" x2="510" y2="2131.2" stroke="#e2001a" stroke-width="4.6"/>
<rect x="437" y="2142" width="96" height="595.3" fill="#e2001a"/>
<line x1="716.4" y1="2192.2" x2="716.4" y2="2199" stroke="#000000" stroke-width="4.6"/>
<line x1="691.4" y1="2192.2" x2="741.4" y2="2192.2" stroke="#000000" stroke-width="4.6"/>
<rect x="668.3" y="2197" width="96.2" height="540.3" fill="#000000"/>
<line x1="854.7" y1="2174.5" x2="854.7" y2="2178.3" stroke="#e2001a" stroke-width="4.6"/>
<line x1="829.7" y1="2174.5" x2="879.7" y2="2174.5" stroke="#e2001a" stroke-width="4.6"/>
<rect x="803.4" y="2176.3" width="102.6" height="567.5" fill="#e2001a"/>
<line x1="231.2" y1="2055.8" x2="231.2" y2="2739.8" stroke="#000000" stroke-width="4.9"/>
<line x1="215" y1="2737.3" x2="974" y2="2737.3" stroke="#000000" stroke-width="5.1"/>
<line x1="217" y1="2058.8" x2="231.2" y2="2058.8" stroke="#000000" stroke-width="4.4"/>
<line x1="217" y1="2284.3" x2="231.2" y2="2284.3" stroke="#000000" stroke-width="4.4"/>
<line x1="217" y1="2511" x2="231.2" y2="2511" stroke="#000000" stroke-width="4.4"/>
<line x1="415.9" y1="2737.3" x2="415.9" y2="2758.3" stroke="#000000" stroke-width="4.6"/>
<line x1="786" y1="2737.3" x2="786" y2="2758.3" stroke="#000000" stroke-width="4.6"/>
<text transform="translate(85.17 2016.6) scale(0.95 1)" font-size="59.78" font-weight="bold" fill="#231f20">E</text>
<text transform="translate(430.66 2022.2) scale(0.98 1)" font-size="59.64" font-weight="bold" fill="#231f20">Food Intake</text>
<text transform="translate(148.5 2662.5) rotate(-90) scale(1 1)" x="-3.93" font-size="58.18" font-weight="bold" fill="#231f20">Food Intake (g/day)</text>
<text transform="translate(340.97 2805.6) scale(1.02 1)" font-size="57.6" font-weight="normal" fill="#231f20">Males</text>
<text transform="translate(654.64 2806) scale(1 1)" font-size="58.91" font-weight="normal" fill="#231f20">Females</text>
<text transform="translate(180.56 2061.4) scale(0.96 1)" font-size="57.63" font-weight="bold" fill="#231f20">3</text>
<text transform="translate(188.94 2286.5) scale(1.03 1)" font-size="57.35" font-weight="bold" fill="#231f20">2</text>
<text transform="translate(188.8 2512.4) scale(0.72 1)" font-size="60.07" font-weight="bold" fill="#231f20">1</text>
<text transform="translate(180.61 2736.2) scale(0.92 1)" font-size="59.78" font-weight="bold" fill="#231f20">0</text>
<line x1="1245.7" y1="2075" x2="1245.7" y2="2088.5" stroke="#000000" stroke-width="4.6"/>
<line x1="1220.7" y1="2075" x2="1270.7" y2="2075" stroke="#000000" stroke-width="4.6"/>
<rect x="1196.4" y="2086.5" width="98.6" height="650.5" fill="#000000"/>
<line x1="1386.5" y1="2112.4" x2="1386.5" y2="2126" stroke="#e2001a" stroke-width="4.6"/>
<line x1="1361.5" y1="2112.4" x2="1411.5" y2="2112.4" stroke="#e2001a" stroke-width="4.6"/>
<rect x="1335.2" y="2124" width="102.6" height="618.5" fill="#e2001a"/>
<line x1="1621.3" y1="2169.2" x2="1621.3" y2="2176.6" stroke="#000000" stroke-width="4.6"/>
<line x1="1596.3" y1="2169.2" x2="1646.3" y2="2169.2" stroke="#000000" stroke-width="4.6"/>
<rect x="1572" y="2174.6" width="98.6" height="562.4" fill="#000000"/>
<line x1="1762.15" y1="2138.7" x2="1762.15" y2="2154.4" stroke="#e2001a" stroke-width="4.6"/>
<line x1="1737.15" y1="2138.7" x2="1787.15" y2="2138.7" stroke="#e2001a" stroke-width="4.6"/>
<rect x="1713.7" y="2152.4" width="96.9" height="584.6" fill="#e2001a"/>
<line x1="1129.2" y1="2047.4" x2="1129.2" y2="2739.5" stroke="#000000" stroke-width="4.9"/>
<line x1="1111.6" y1="2737" x2="1884" y2="2737" stroke="#000000" stroke-width="5.1"/>
<line x1="1113" y1="2049.8" x2="1129.2" y2="2049.8" stroke="#000000" stroke-width="4.4"/>
<line x1="1113" y1="2186.4" x2="1129.2" y2="2186.4" stroke="#000000" stroke-width="4.4"/>
<line x1="1113" y1="2323.8" x2="1129.2" y2="2323.8" stroke="#000000" stroke-width="4.4"/>
<line x1="1113" y1="2462.2" x2="1129.2" y2="2462.2" stroke="#000000" stroke-width="4.4"/>
<line x1="1113" y1="2598.8" x2="1129.2" y2="2598.8" stroke="#000000" stroke-width="4.4"/>
<line x1="1315.9" y1="2737" x2="1315.9" y2="2758" stroke="#000000" stroke-width="4.6"/>
<line x1="1692.3" y1="2737" x2="1692.3" y2="2758" stroke="#000000" stroke-width="4.6"/>
<text transform="translate(1068.93 2007.2) scale(0.94 1)" font-size="57.89" font-weight="bold" fill="#231f20">F</text>
<text transform="translate(1316.86 2024) scale(0.97 1)" font-size="59.64" font-weight="bold" fill="#231f20">Water Intake</text>
<text transform="translate(1046 2668.6) rotate(-90) scale(1 1)" x="-0.15" font-size="58.18" font-weight="bold" fill="#231f20">Water Intake (ml/day)</text>
<text transform="translate(1219.78 2806) scale(1 1)" font-size="58.18" font-weight="normal" fill="#231f20">Males</text>
<text transform="translate(1563.54 2807) scale(0.99 1)" font-size="59.64" font-weight="normal" fill="#231f20">Females</text>
<text transform="translate(1079.14 2053.6) scale(0.95 1)" font-size="58.49" font-weight="bold" fill="#231f20">5</text>
<text transform="translate(1078.69 2175.4) scale(0.93 1)" font-size="57.92" font-weight="bold" fill="#231f20">4</text>
<text transform="translate(1079.55 2331.8) scale(0.96 1)" font-size="57.49" font-weight="bold" fill="#231f20">3</text>
<text transform="translate(1081.13 2465.8) scale(1 1)" font-size="59.07" font-weight="bold" fill="#231f20">2</text>
<text transform="translate(1079.23 2600) scale(0.74 1)" font-size="60.22" font-weight="bold" fill="#231f20">1</text>
<text transform="translate(1081.13 2736.6) scale(0.94 1)" font-size="60.22" font-weight="bold" fill="#231f20">0</text>
</svg>
</body>
</html>
